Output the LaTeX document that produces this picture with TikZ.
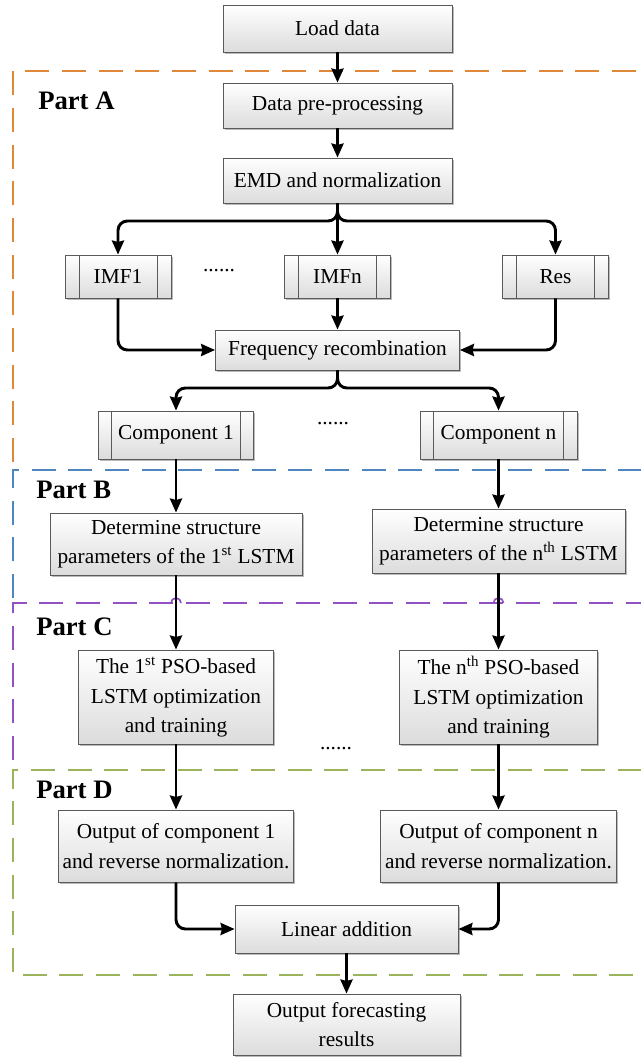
\documentclass[tikz,border=0pt]{standalone}
\usepackage{fontspec}
\setmainfont{Liberation Serif}
\usetikzlibrary{arrows.meta,shadows}

\definecolor{boxedge}{HTML}{5A5A5A}
\definecolor{boxbot}{HTML}{DCDCDC}
\definecolor{partA}{HTML}{E0883A}
\definecolor{partB}{HTML}{4F86C0}
\definecolor{partC}{HTML}{9150C4}
\definecolor{partD}{HTML}{9BB35A}

\tikzset{
  box/.style={draw=boxedge, line width=0.6pt, top color=white, bottom color=boxbot,
    align=center, inner sep=0pt, font=\fontsize{16}{22}\selectfont,
    drop shadow={shadow xshift=1.3pt, shadow yshift=-1.3pt, fill=black!45, opacity=0.6}},
  bx/.style 2 args={minimum width=#1*0.75pt, minimum height=#2*0.75pt},
  predef/.style={path picture={
    \draw[boxedge, line width=0.6pt]
      ([xshift=#1]path picture bounding box.north west) -- ([xshift=#1]path picture bounding box.south west)
      ([xshift=-#1]path picture bounding box.north east) -- ([xshift=-#1]path picture bounding box.south east);}},
  arr/.style={line width=2.2pt, -{Stealth[length=10.5pt,width=9pt,inset=1pt]}},
  link/.style={arr, rounded corners=7pt},
  partline/.style={line width=1.25pt, dash pattern=on 18pt off 9.5pt},
  partlabel/.style={anchor=base west, inner sep=0pt, font=\fontsize{20}{24}\selectfont\bfseries},
  dots/.style={anchor=base, inner sep=0pt, font=\fontsize{16}{20}\selectfont},
}

\begin{document}
\begin{tikzpicture}[x=0.75pt,y=-0.75pt]
\useasboundingbox (0,0) rectangle (640,1059);

% dashed part frames (open to the right)
\draw[partline, partA] (13,462) -- (13,71) -- (670,71);
\draw[partline, partB] (13,598) -- (13,470) -- (670,470);
\draw[partline, partC] (13,760) -- (13,603) -- (670,603);
\draw[partline, partD] (670,975) -- (13,975) -- (13,770) -- (670,770);

% line hops where the arrows cross the Part C frame
\draw[partC, line width=1.25pt] (171,603) arc (180:360:5);
\draw[partC, line width=1.25pt] (493.5,603) arc (180:360:5);

% part labels
\node[partlabel] (lA) at (38,110) {Part A};
\node[partlabel] (lB) at (36,498) {Part B};
\node[partlabel] (lC) at (36,635) {Part C};
\node[partlabel] (lD) at (36,798) {Part D};

% process boxes
\node[box, bx={229}{47}] (load) at (337.5,28.5) {Load data};
\node[box, bx={229}{45}] (pre)  at (337.5,105.5) {Data pre-processing};
\node[box, bx={229}{45}] (emd)  at (337.5,180.5) {EMD and normalization};

\node[box, predef=10.5pt, bx={106}{43}] (imf1) at (118,276.5) {IMF1};
\node[box, predef=10.5pt, bx={106}{43}] (imfn) at (337.5,276.5) {IMFn};
\node[box, predef=10.5pt, bx={106}{43}] (res)  at (555.5,276.5) {Res};

\node[box, bx={244}{40}] (freq) at (337.5,350) {Frequency recombination};

\node[box, predef=10pt, bx={155}{48}] (comp1) at (176,435) {Component 1};
\node[box, predef=10pt, bx={157}{48}] (compn) at (498.5,435) {Component n};

\node[box, bx={252}{62}] (det1) at (176,544) {Determine structure\\parameters of the 1\textsuperscript{st} LSTM};
\node[box, bx={253}{64}] (detn) at (498.5,541) {Determine structure\\parameters of the n\textsuperscript{th} LSTM};

\node[box, bx={195}{94}] (pso1) at (176,697) {The 1\textsuperscript{st} PSO-based\\LSTM optimization\\and training};
\node[box, bx={198}{94}] (pson) at (498.5,697) {The n\textsuperscript{th} PSO-based\\LSTM optimization\\and training};

\node[box, bx={235}{72}] (out1) at (176,846) {Output of component 1\\and reverse normalization.};
\node[box, bx={236}{72}] (outn) at (498.5,846) {Output of component n\\and reverse normalization.};

\node[box, bx={223}{48}] (lin) at (346.5,929) {Linear addition};
\node[box, bx={227}{61}] (final) at (346.5,1024.5) {Output forecasting\\results};

% ellipses between parallel branches
\node[dots] (dots1) at (219,272) {......};
\node[dots] (dots2) at (333,424) {......};
\node[dots] (dots3) at (336,749) {......};

% junction points
\coordinate (j1) at (337.5,221);
\coordinate (j2) at (337.5,388);

% connectors
\draw[arr] (load) -- (pre);
\draw[arr] (pre) -- (emd);
\draw[link] (emd.south) -- (j1) -| (imf1.north);
\draw[link] (emd.south) -- (j1) -| (res.north);
\draw[arr] (emd.south) -- (imfn.north);

\draw[link] (imf1.south) |- (freq.west);
\draw[arr] (imfn.south) -- (freq.north);
\draw[link] (res.south) |- (freq.east);

\draw[link] (freq.south) -- (j2) -| (comp1.north);
\draw[link] (freq.south) -- (j2) -| (compn.north);

\draw[arr] (comp1) -- (det1);
\draw[arr] (compn) -- (detn);
\draw[arr] (det1) -- (pso1);
\draw[arr] (detn) -- (pson);
\draw[arr] (pso1) -- (out1);
\draw[arr] (pson) -- (outn);

\draw[link] (out1.south) |- (lin.west);
\draw[link] (outn.south) |- (lin.east);
\draw[arr] (lin) -- (final);
\end{tikzpicture}
\end{document}
